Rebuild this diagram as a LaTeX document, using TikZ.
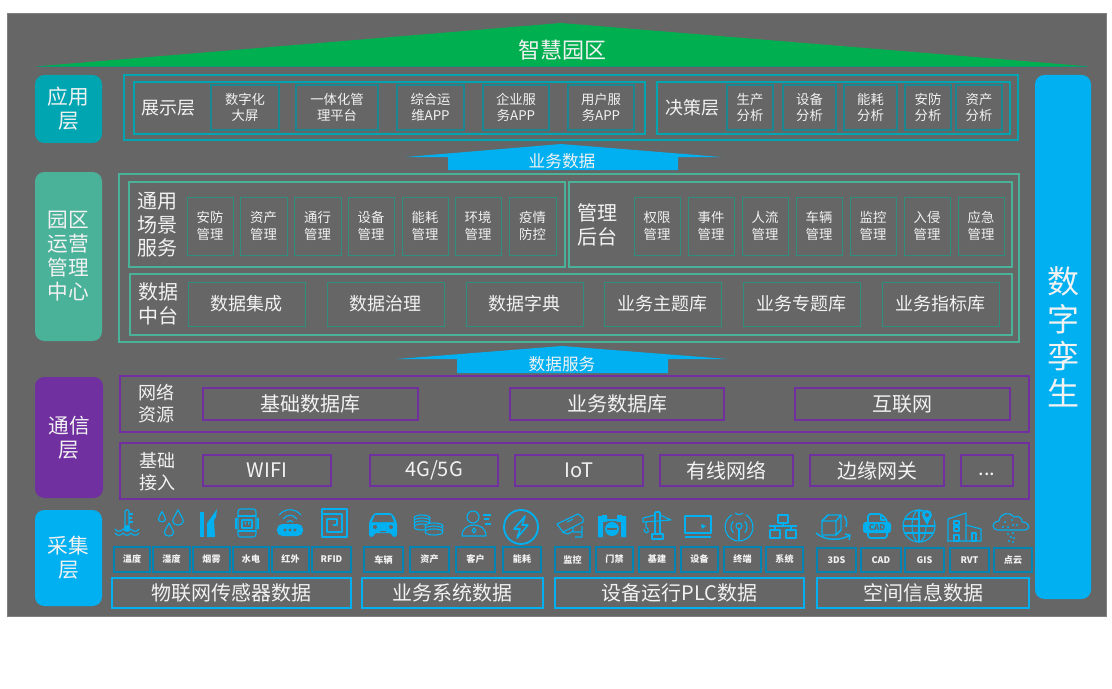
\documentclass[tikz,border=0pt]{standalone}
\usepackage{fontspec}
\setmainfont{Noto Sans CJK SC}
\definecolor{bgc}{HTML}{666666}
\definecolor{bgl}{HTML}{808080}
\definecolor{grn}{HTML}{00B050}
\definecolor{tealc}{HTML}{00A5B2}
\definecolor{teald}{HTML}{1B8790}
\definecolor{minc}{HTML}{4BB29A}
\definecolor{mind}{HTML}{2F8F7E}
\definecolor{purc}{HTML}{7030A0}
\definecolor{cyanc}{HTML}{00B0F0}
\definecolor{txt}{HTML}{F2F2F2}
\tikzset{
 every node/.style={inner sep=0pt,outer sep=0pt,align=center,text=txt},
 fa/.style={font=\fontsize{6.8pt}{8.4pt}\selectfont\bfseries},
 fb/.style={font=\fontsize{10pt}{12.2pt}\selectfont},
 fc/.style={font=\fontsize{13.5pt}{16.5pt}\selectfont},
 fd/.style={font=\fontsize{15pt}{17.5pt}\selectfont},
 fe/.style={font=\fontsize{15.5pt}{18pt}\selectfont},
 pill/.style={rounded corners=7pt,fe},
 frameT/.style={draw=tealc,line width=1.4pt},
 frameM/.style={draw=minc,line width=1.4pt},
 frameP/.style={draw=purc,line width=1.8pt},
 frameC/.style={draw=cyanc,line width=1.4pt},
 itemT/.style={draw=teald,line width=.9pt,fb},
 itemM/.style={draw=mind,line width=.7pt,fb},
 itemMb/.style={draw=mind,line width=.7pt,fc},
 itemP/.style={draw=purc,line width=1.2pt,fd},
 itemC/.style={draw=cyanc!75!black,line width=.8pt,fa},
 ic/.style={draw=cyanc,line width=.85pt,fill=none,line join=round},
}
\newcommand\bx[7]{\node[#6,minimum width={(#4-#2)*.75pt},minimum height={(#5-#3)*.75pt}] (#1) at ({(#2+#4)/2},{(#3+#5)/2}) {#7};}
\newcommand\drp[3]{\begin{scope}[shift={(#1,#2)},scale=#3]\draw[ic] (0,-8) .. controls (2,-3) and (5,0) .. (5,3) .. controls (5,8) and (-5,8) .. (-5,3) .. controls (-5,0) and (-2,-3) .. (0,-8);\end{scope}}
\newcommand\wv[2]{\draw[ic] (#1,#2) .. controls (#1+2,#2+3) and (#1+6,#2+3) .. (#1+8,#2) .. controls (#1+10,#2+3) and (#1+14,#2+3) .. (#1+16,#2) .. controls (#1+18,#2+3) and (#1+22,#2+3) .. (#1+24,#2);}
\begin{document}
\begin{tikzpicture}[x=.75pt,y=-.75pt]
\useasboundingbox (0,0) rectangle (1112,688);
\fill[white] (0,0) rectangle (1112,688);
\draw[fill=bgc,draw=bgl,line width=.75pt] (7,14) rectangle (1106,616);
% title
\draw[fill=grn,draw=none] (35,66.5) -- (561,23) -- (1090,66.5) -- cycle;
\draw[draw=teald!60!grn,line width=.6pt] (38,66.5) -- (1087,66.5);
\node[font=\fontsize{16.5pt}{18pt}\selectfont] (title) at (562,50) {智慧园区};
% left pills
\bx{ying}{35}{75}{102}{143}{pill,fill=tealc}{应用\\层}
\bx{yuan}{35}{172}{102}{341}{pill,fill=minc}{园区\\运营\\管理\\中心}
\bx{tong}{35}{377}{103}{498}{pill,fill=purc}{通信\\层}
\bx{cai}{35}{510}{102}{606}{pill,fill=cyanc}{采集\\层}
\bx{twin}{1035}{75}{1091}{599}{rounded corners=7pt,fill=cyanc,font=\fontsize{24pt}{28pt}\selectfont}{数\\字\\孪\\生}
% application layer
\bx{appF}{124}{75}{1018}{140}{frameT}{}
\bx{showF}{134}{82}{645}{134}{frameT}{}
\bx{deciF}{657}{82}{1010}{134}{frameT}{}
\node[fc] (showL) at (168,108) {展示层};
\node[fc] (deciL) at (692,108) {决策层};
\bx{a1}{211}{85}{279}{130}{itemT}{数字化\\大屏}
\bx{a2}{296}{85}{378}{130}{itemT}{一体化管\\理平台}
\bx{a3}{397}{85}{464}{130}{itemT}{综合运\\维APP}
\bx{a4}{483}{85}{549}{130}{itemT}{企业服\\务APP}
\bx{a5}{568}{85}{634}{130}{itemT}{用户服\\务APP}
\bx{d1}{727}{85}{773}{130}{itemT}{生产\\分析}
\bx{d2}{783}{85}{836}{130}{itemT}{设备\\分析}
\bx{d3}{844}{85}{897}{130}{itemT}{能耗\\分析}
\bx{d4}{905}{85}{951}{130}{itemT}{安防\\分析}
\bx{d5}{956}{85}{1002}{130}{itemT}{资产\\分析}
% arrow 1
\fill[cyanc] (406,157) -- (561,144) -- (721,157) -- (678,157) -- (678,170) -- (448,170) -- (448,157) -- cycle;
\node[font=\fontsize{12.5pt}{14pt}\selectfont] (arrA) at (562,161) {业务数据};
% middle
\bx{midF}{119}{174}{1019}{342}{frameM}{}
\bx{genF}{129}{182}{565}{267}{frameM}{}
\bx{admF}{569}{182}{1012}{267}{frameM}{}
\bx{datF}{130}{274}{1012}{335}{frameM}{}
\node[fd] (genL) at (157,225) {通用\\场景\\服务};
\node[fd] (admL) at (597,225) {管理\\后台};
\node[fd] (datL) at (158,304) {数据\\中台};
\bx{g1}{187}{197}{233}{255}{itemM}{安防\\管理}
\bx{g2}{240}{197}{287}{255}{itemM}{资产\\管理}
\bx{g3}{294}{197}{341}{255}{itemM}{通行\\管理}
\bx{g4}{348}{197}{394}{255}{itemM}{设备\\管理}
\bx{g5}{402}{197}{448}{255}{itemM}{能耗\\管理}
\bx{g6}{455}{197}{501}{255}{itemM}{环境\\管理}
\bx{g7}{509}{197}{556}{255}{itemM}{疫情\\防控}
\bx{m1}{634}{197}{680}{255}{itemM}{权限\\管理}
\bx{m2}{688}{197}{734}{255}{itemM}{事件\\管理}
\bx{m3}{742}{197}{788}{255}{itemM}{人流\\管理}
\bx{m4}{796}{197}{842}{255}{itemM}{车辆\\管理}
\bx{m5}{850}{197}{896}{255}{itemM}{监控\\管理}
\bx{m6}{904}{197}{950}{255}{itemM}{入侵\\管理}
\bx{m7}{958}{197}{1004}{255}{itemM}{应急\\管理}
\bx{s1}{188}{282}{305}{326}{itemMb}{数据集成}
\bx{s2}{327}{282}{444}{326}{itemMb}{数据治理}
\bx{s3}{466}{282}{583}{326}{itemMb}{数据字典}
\bx{s4}{604}{282}{721}{326}{itemMb}{业务主题库}
\bx{s5}{743}{282}{860}{326}{itemMb}{业务专题库}
\bx{s6}{882}{282}{999}{326}{itemMb}{业务指标库}
% arrow 2
\fill[cyanc] (397,359) -- (562,346) -- (727,359) -- (668,359) -- (668,373) -- (457,373) -- (457,359) -- cycle;
\node[font=\fontsize{12.5pt}{14pt}\selectfont] (arrB) at (562,364) {数据服务};
% comm
\bx{netF}{120}{376}{1029}{432}{frameP}{}
\bx{accF}{120}{443}{1029}{499}{frameP}{}
\node[fc] (netL) at (156,404) {网络\\资源};
\node[fc] (accL) at (157,472) {基础\\接入};
\bx{n1}{203}{388}{418}{420}{itemP}{基础数据库}
\bx{n2}{510}{388}{724}{420}{itemP}{业务数据库}
\bx{n3}{795}{388}{1010}{420}{itemP}{互联网}
\bx{w1}{203}{455}{331}{486}{itemP}{WIFI}
\bx{w2}{370}{455}{498}{486}{itemP}{4G/5G}
\bx{w3}{515}{455}{643}{486}{itemP}{IoT}
\bx{w4}{660}{455}{793}{486}{itemP}{有线网络}
\bx{w5}{810}{455}{944}{486}{itemP}{边缘网关}
\bx{w6}{961}{455}{1013}{486}{itemP}{\strut .{}.{}.}
% labels
\bx{c1}{114}{547}{150}{572}{itemC}{温度}
\bx{c2}{153}{547}{190}{572}{itemC}{湿度}
\bx{c3}{193}{547}{230}{572}{itemC}{烟雾}
\bx{c4}{233}{547}{269}{572}{itemC}{水电}
\bx{c5}{272}{547}{309}{572}{itemC}{红外}
\bx{c6}{312}{547}{351}{572}{itemC}{RFID}
\bx{c7}{364}{547}{403}{572}{itemC}{车辆}
\bx{c8}{410}{547}{449}{572}{itemC}{资产}
\bx{c9}{456}{547}{495}{572}{itemC}{客户}
\bx{c10}{503}{547}{541}{572}{itemC}{能耗}
\bx{c11}{555}{547}{590}{572}{itemC}{监控}
\bx{c12}{596}{547}{633}{572}{itemC}{门禁}
\bx{c13}{639}{547}{675}{572}{itemC}{基建}
\bx{c14}{681}{547}{718}{572}{itemC}{设备}
\bx{c15}{724}{547}{761}{572}{itemC}{终端}
\bx{c16}{766}{547}{803}{572}{itemC}{系统}
\bx{c17}{817}{548}{856}{572}{itemC}{3DS}
\bx{c18}{861}{548}{901}{572}{itemC}{CAD}
\bx{c19}{905}{548}{944}{572}{itemC}{GIS}
\bx{c20}{950}{548}{989}{572}{itemC}{RVT}
\bx{c21}{994}{548}{1032}{572}{itemC}{点云}
\bx{b1}{112}{578}{351}{608}{frameC,fd}{物联网传感器数据}
\bx{b2}{362}{578}{543}{608}{frameC,fd}{业务系统数据}
\bx{b3}{555}{578}{804}{608}{frameC,fd}{设备运行PLC数据}
\bx{b4}{817}{578}{1029}{608}{frameC,fd}{空间信息数据}
% icons
\begin{scope}[shift={(127,523)}]
 \draw[ic] (-2,5) -- (-2,-11) (2,-11) -- (2,5) (-2,-11) .. controls (-2,-14) and (2,-14) .. (2,-11);
 \draw[ic] (2,-9)--(6,-9) (2,-5)--(5,-5) (2,-1)--(6,-1);
 \fill[cyanc] (0,5) circle[radius=3];
 \wv{-12}{6} \wv{-12}{10}
\end{scope}
\drp{162}{517}{.7} \drp{178}{518}{1.05} \drp{169}{530}{.9}
\begin{scope}[shift={(207,523)}]
 \fill[cyanc] (-7,-11) rectangle (-3,14);
 \fill[cyanc] (0,14) -- (0,0) -- (3,-4) -- (10,-14) -- (9,-6) -- (7,-3) -- (8,14) -- cycle;
\end{scope}
\begin{scope}[shift={(247,523)}]
 \draw[ic,rounded corners=2pt] (-9,-14) rectangle (9,14);
 \draw[ic] (-9,-7) -- (9,-7) (-9,8)--(9,8) (-11,-5)--(-11,6) (11,-5)--(11,6);
 \draw[ic] (-5,-3) rectangle (5,5);
 \fill[cyanc] (-2.5,-1.5) rectangle (-1,1.5) (1,-1.5) rectangle (2.5,1.5);
\end{scope}
\begin{scope}[shift={(290,523)}]
 \draw[ic] (-11,-8) .. controls (-5,-15) and (5,-15) .. (11,-8);
 \draw[ic] (-7,-4) .. controls (-3,-9) and (3,-9) .. (7,-4);
 \draw[ic] (-3,-1) .. controls (-1,-3) and (1,-3) .. (3,-1);
 \fill[cyanc,rounded corners=4pt] (-13,1) rectangle (13,13);
 \fill[bgc] (-5,7) circle[radius=1.6] (0,7) circle[radius=1.6] (5,7) circle[radius=1.6];
\end{scope}
\begin{scope}[shift={(335,523)}]
 \draw[ic] (-13,-14) rectangle (12,14);
 \draw[ic] (-13,-9) -- (7,-9) -- (7,9) -- (-8,9) -- (-8,-4) -- (2,-4) -- (2,2) -- (-2,2);
\end{scope}
\begin{scope}[shift={(383,525)}]
 \fill[cyanc,rounded corners=2pt] (-14,-3) -- (-9,-12) -- (9,-12) -- (14,-3) -- (14,12) -- (9,12) -- (9,8) -- (-9,8) -- (-9,12) -- (-14,12) -- cycle;
 \fill[bgc] (-8,-10) -- (8,-10) -- (11,-3) -- (-11,-3) -- cycle;
 \fill[bgc] (-8,2) circle[radius=2] (8,2) circle[radius=2] (-3,6) rectangle (3,7);
\end{scope}
\begin{scope}[shift={(428,525)}]
 \foreach \yy in {-7,-4,-1,2} {\draw[ic,fill=bgc] (-6,\yy) ellipse[x radius=8,y radius=3];}
 \foreach \yy in {1,4,7} {\draw[ic,fill=bgc] (6,\yy) ellipse[x radius=9,y radius=3];}
\end{scope}
\begin{scope}[shift={(477,524)}]
 \draw[ic] (-4,-7) circle[radius=6];
 \draw[ic] (-15,12) .. controls (-15,4) and (-9,1) .. (-3,1) .. controls (3,1) and (9,4) .. (9,12) -- cycle;
 \draw[ic] (-3,4) -- (-1,6.5) -- (-3,9) -- (-5,6.5) -- cycle;
 \draw[ic] (6,-9)--(14,-9) (7,-5)--(12,-5) (8,0)--(14,0);
\end{scope}
\begin{scope}[shift={(521,527)}]
 \draw[ic,line width=1.4pt] (0,0) circle[radius=17];
 \draw[ic,line width=1.2pt] (4,-11) -- (-7,2) -- (-1,2) -- (-4,11) -- (7,-2) -- (1,-2) -- cycle;
\end{scope}
\begin{scope}[shift={(570,525)}]
 \draw[ic] (-13,-1) -- (8,-11) -- (13,-7) -- (13,-3) -- (-7,7) -- cycle;
 \draw[ic] (-3,-3) -- (3,-6);
 \draw[ic] (-8,7) -- (-2,9) -- (3,6) (3,2) -- (3,7) -- (12,7) (12,1) -- (12,12) -- (5,12);
\end{scope}
\begin{scope}[shift={(612,526)}]
 \fill[cyanc] (-14,-10) rectangle (-5,11) (5,-10) rectangle (14,11) (-14,-7) rectangle (14,-5);
 \fill[cyanc] (-10,-11) rectangle (-5,-7) (5,-11) rectangle (10,-7);
 \fill[bgc] (-10,-4) rectangle (10,11);
 \fill[cyanc] (-14,-4) rectangle (-9,11) (9,-4) rectangle (14,11);
 \fill[cyanc] (0,3) circle[radius=7];
 \fill[bgc] (-5,2) rectangle (5,4);
\end{scope}
\begin{scope}[shift={(657,525)}]
 \draw[ic] (-2,-13) -- (-2,9) (3,-13) -- (3,9) (-2,-13) -- (3,-13);
 \draw[ic] (-14,-7) -- (-2,-10) (3,-10) -- (14,-5) -- (-14,-3) -- (-14,-7);
 \draw[ic] (-11,-3) -- (-11,2) (-13,4) .. controls (-13,9) and (-7,9) .. (-9,4) -- (-11,2);
 \draw[ic] (-5,9) rectangle (6,14);
\end{scope}
\begin{scope}[shift={(698,526)}]
 \draw[ic] (-13,-10) rectangle (13,7);
 \draw[ic] (-13,11) -- (13,11);
 \fill[cyanc] (3,-2) -- (8,0) -- (4,3) -- cycle;
\end{scope}
\begin{scope}[shift={(739,527)}]
 \draw[ic] (300:14) arc[start angle=300,end angle=600,radius=14];
 \draw[ic] (-45:8) arc[start angle=-45,end angle=45,radius=8];
 \draw[ic] (135:8) arc[start angle=135,end angle=225,radius=8];
 \draw[ic] (0,-1) circle[radius=3];
 \draw[ic] (0,2) -- (0,13);
 \draw[ic] (-4,-14) .. controls (-2,-12) and (2,-12) .. (4,-14);
\end{scope}
\begin{scope}[shift={(783,526)}]
 \draw[ic] (-5,-11) rectangle (5,-3) (-13,4) rectangle (-3,12) (3,4) rectangle (13,12);
 \draw[ic] (0,-3) -- (0,0) (-14,0) -- (14,0) (-8,0) -- (-8,4) (8,0) -- (8,4);
\end{scope}
\begin{scope}[shift={(833,527)}]
 \draw[ic,line width=1.1pt] (-11,-6) -- (-5,-12) -- (8,-12) -- (8,3) -- (3,8) -- (-11,8) -- cycle;
 \draw[ic,line width=1.1pt] (-11,-6) -- (3,-6) -- (3,8) (3,-6) -- (8,-12);
 \draw[ic,line width=1.1pt] (-17,6) .. controls (-8,14) and (8,14) .. (17,8);
 \draw[ic,line width=1.1pt] (12,7) -- (17,8) -- (16,13);
 \draw[ic,line width=1.1pt] (11,-11) .. controls (14,-8) and (14,-4) .. (13,0);
\end{scope}
\begin{scope}[shift={(877,526)}]
 \draw[ic,line width=1.3pt,rounded corners=2pt] (-9,-12) -- (4,-12) -- (10,-6) -- (10,12) -- (-9,12) -- cycle;
 \draw[ic] (4,-12) -- (4,-6) -- (10,-6);
 \fill[cyanc,rounded corners=2pt] (-14,-4) rectangle (14,7);
 \node[text=bgc,font=\fontsize{6pt}{7pt}\selectfont\bfseries] (cadic) at (0,1.5) {CAD};
\end{scope}
\begin{scope}[shift={(919,526)}]
 \draw[ic] (0,0) circle[radius=16];
 \draw[ic] (0,0) ellipse[x radius=7,y radius=16];
 \draw[ic] (0,-16) -- (0,16) (-16,0) -- (16,0) (-14,-7) -- (14,-7) (-14,7) -- (14,7);
 \fill[bgc] (8,-8) circle[radius=7];
 \fill[cyanc] (8,-11) circle[radius=5] (3.6,-9) -- (12.4,-9) -- (8,-1) -- cycle;
 \fill[bgc] (8,-11) circle[radius=2];
\end{scope}
\begin{scope}[shift={(964,527)}]
 \draw[ic] (-16,14) -- (-16,-8) -- (2,-14) -- (2,14);
 \draw[ic] (2,-2) -- (17,2) -- (17,14) -- (-17,14);
 \draw[ic] (-10,-6) rectangle (-5,-2) (-10,0) rectangle (-5,4) (-10,8) rectangle (-5,14) (8,6) rectangle (12,14);
\end{scope}
\begin{scope}[shift={(1011,528)}]
 \draw[ic] (-13,2) .. controls (-20,1) and (-20,-6) .. (-12,-7) .. controls (-11,-15) and (-2,-17) .. (3,-11) .. controls (8,-13) and (12,-9) .. (11,-6) .. controls (19,-6) and (20,2) .. (13,2) -- cycle;
 \fill[cyanc] (-6,-6) circle[radius=1.1] (1,-8) circle[radius=1.1] (6,-3) circle[radius=1.1] (-3,-1) circle[radius=1.1] (2,-3) circle[radius=1.1] (-8,-1) circle[radius=1.1]
  (-3,6) circle[radius=1.1] (2,5) circle[radius=1.1] (0,9) circle[radius=1.1] (3,10) circle[radius=1.1] (-2,13) circle[radius=1.1] (2,14) circle[radius=1.1];
\end{scope}
\end{tikzpicture}
\end{document}
